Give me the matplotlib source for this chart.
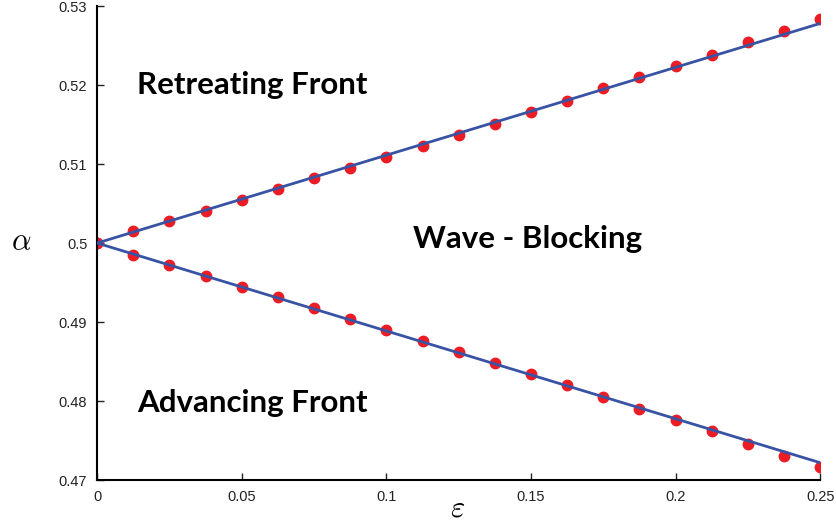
import matplotlib.pyplot as plt

# data
eps = [0, 0.0125, 0.025, 0.0375, 0.05, 0.0625, 0.075, 0.0875, 0.1, 0.1125,
       0.125, 0.1375, 0.15, 0.1625, 0.175, 0.1875, 0.2, 0.2125, 0.225, 0.2375, 0.25]
alpha_upper = [0.5, 0.5015, 0.5028, 0.5041, 0.5054, 0.5068, 0.5082, 0.5095, 0.5109, 0.5123,
               0.5137, 0.5151, 0.5166, 0.5180, 0.5196, 0.5210, 0.5224, 0.5238, 0.5254, 0.5268, 0.5284]
alpha_lower = [0.5, 0.4985, 0.4972, 0.4958, 0.4945, 0.4932, 0.4918, 0.4904, 0.4890, 0.4876,
               0.4862, 0.4848, 0.4834, 0.4820, 0.4805, 0.4790, 0.4776, 0.4762, 0.4746, 0.4731, 0.4716]

line_eps = [0, 0.25]
line_upper = [0.5, 0.5278]
line_lower = [0.5, 0.4722]

xticks = [0, 0.05, 0.1, 0.15, 0.2, 0.25]
xticklabels = ['0', '0.05', '0.1', '0.15', '0.2', '0.25']
yticks = [0.47, 0.48, 0.49, 0.5, 0.51, 0.52, 0.53]
yticklabels = ['0.47', '0.48', '0.49', '0.5', '0.51', '0.52', '0.53']

plt.rcParams['mathtext.fontset'] = 'cm'
plt.rcParams['font.family'] = ['Liberation Sans', 'DejaVu Sans']

fig = plt.figure(figsize=(8.37, 5.23), dpi=100)
ax = fig.add_axes([0.116, 0.082, 0.864, 0.9065])

red = '#ec1c24'
blue = '#3953a4'
ax.plot(eps, alpha_upper, 'o', color=red, ms=7.5, zorder=2)
ax.plot(eps, alpha_lower, 'o', color=red, ms=7.5, zorder=2)
ax.plot(line_eps, line_upper, color=blue, lw=2, zorder=3)
ax.plot(line_eps, line_lower, color=blue, lw=2, zorder=3)

ax.set_xlim(0, 0.25)
ax.set_ylim(0.47, 0.53)
ax.set_xticks(xticks)
ax.set_xticklabels(xticklabels)
ax.set_yticks(yticks)
ax.set_yticklabels(yticklabels)
ax.tick_params(direction='in', length=5, width=1, labelsize=10.5, colors='#222222', pad=7)
for s in ['top', 'right']:
    ax.spines[s].set_visible(False)
for s in ['left', 'bottom']:
    ax.spines[s].set_linewidth(1.5)

tkw = dict(fontsize=22.5, fontweight='bold', family='Lato', va='center', ha='left')
ax.text(0.0138, 0.5200, 'Retreating Front', **tkw)
ax.text(0.1093, 0.5005, 'Wave - Blocking', **tkw)
ax.text(0.0138, 0.4797, 'Advancing Front', **tkw)

fig.text(0.025, 0.537, r'$\alpha$', fontsize=22, ha='center', va='center')
fig.text(0.547, 0.027, r'$\varepsilon$', fontsize=22, ha='center', va='center')

fig.savefig('out.png', dpi=100)
